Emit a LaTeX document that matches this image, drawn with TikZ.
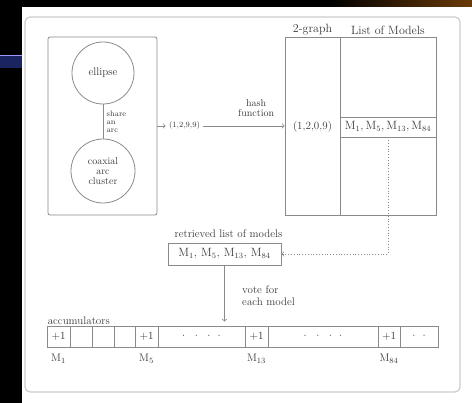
\documentclass[tikz,border=0pt]{standalone}
\usepackage{fontspec}
\usetikzlibrary{calc, positioning}

\begin{document}
\begin{tikzpicture}[x=1pt, y=-1pt,
    every node/.style={text=textColour, font=\fontsize{11}{12}\selectfont},
    box/.style={draw=lineColour, line width=0.8pt, inner sep=0pt},
    accCell/.style={box, minimum height=21pt},
    link/.style={draw=lineColour, line width=0.8pt, ->},
  ]
    % Define colors
    \definecolor{lineColour}{HTML}{8A8A8A}
    \definecolor{textColour}{HTML}{3A3A3A}
    \definecolor{frameColour}{HTML}{CDCDCD}
    \definecolor{barColour}{HTML}{1A2560}
    \definecolor{brownColour}{HTML}{6A3A08}

    % Fix page size
    \useasboundingbox (0,0) rectangle (472,403);

    % Draw slide background
    \fill[black] (0,0) rectangle (472,403);
    \fill[white] (22,7) rectangle (472,403);
    \shade[left color=black, right color=brownColour] (330,0) rectangle (472,7);
    \fill[barColour] (0,55) rectangle (22,68);
    \draw[blue!40!white, line width=0.6pt] (0,55.3) -- (22,55.3);

    % Draw outer frame
    \draw[frameColour, line width=1.2pt, rounded corners=5pt] (25,17) rectangle (460,392);

    % Draw graph box with the two circles
    \node[box, rounded corners=2pt, minimum width=109pt, minimum height=178pt] (graphBox) at (102.5,126) {};
    \node[box, circle, minimum size=62pt, align=center] (ellipseNode) at (103,73) {ellipse};
    \node[box, circle, minimum size=64pt, align=center, font=\fontsize{10}{10}\selectfont] (coaxialNode) at (103,171) {coaxial\\arc\\cluster};
    \draw[lineColour, line width=0.8pt] (ellipseNode) -- (coaxialNode)
        node[midway, right, align=left, font=\fontsize{8}{8}\selectfont] {share\\an\\arc};

    % Draw hashing step
    \node[font=\fontsize{8}{8}\selectfont] (queryKey) at (184.5,126) {(1,2,9,9)};
    \draw[link] (graphBox) -- (queryKey);
    \node[box, minimum width=151pt, minimum height=178pt] (hashTable) at (360.5,126) {};
    \draw[link] (queryKey) -- (hashTable)
        node[pos=0.65, above=6pt, align=center, font=\fontsize{10}{10}\selectfont] {hash\\function};

    % Draw hash table
    \draw[lineColour, line width=0.8pt] (340,37) -- (340,215);
    \node[font=\fontsize{12}{12}\selectfont, anchor=south] (graphHead) at (312.5,38) {2-graph};
    \node[font=\fontsize{12}{12}\selectfont, anchor=south] (modelsHead) at (388,38) {List of Models};
    \node (tableKey) at (312.5,127) {(1,2,0,9)};
    \node[box, minimum width=96pt, minimum height=20pt, font=\fontsize{12}{12}\selectfont] (modelList) at (388,127)
        {$\mathrm{M}_1,\mathrm{M}_5,\mathrm{M}_{13},\mathrm{M}_{84}$};

    % Draw retrieved list
    \node[box, minimum width=113pt, minimum height=22pt, font=\fontsize{12}{12}\selectfont] (retrievedList) at (224.5,254)
        {$\mathrm{M}_1,\,\mathrm{M}_5,\,\mathrm{M}_{13},\,\mathrm{M}_{84}$};
    \node[above=1pt of retrievedList, xshift=4pt] (retrievedLabel) {retrieved list of models};
    \draw[link, dotted] (modelList.south) |- (retrievedList.east);

    % Draw accumulator cells
    \foreach \l/\r/\txt/\nm in {47/70/{$+1$}/cellA, 70/92/{}/cellB, 92/114/{}/cellC, 114/135/{}/cellD,
        135/158/{$+1$}/cellE, 158/245/{$\cdot\ \ \cdot\ \ \cdot\ \ \cdot$}/cellF, 245/268/{$+1$}/cellG,
        268/378/{$\cdot\ \ \cdot\ \ \cdot\ \ \cdot$}/cellH, 378/400/{$+1$}/cellI, 400/438/{$\cdot\ \ \cdot$}/cellJ}
    {
        \pgfmathsetmacro\cellW{\r-\l}
        \pgfmathsetmacro\cellX{(\l+\r)/2}
        \node[accCell, minimum width=\cellW pt] (\nm) at (\cellX,336.5) {\txt};
    }
    \node[anchor=south west, inner sep=1pt] (accLabel) at (cellA.north west) {accumulators};

    % Label the model cells
    \foreach \c/\m in {cellA/1, cellE/5, cellG/13, cellI/84}
        \node[below=3pt of \c] (modelLabel\m) {$\mathrm{M}_{\m}$};

    % Draw voting step
    \draw[link, shorten >=4pt] (retrievedList) -- (retrievedList |- cellF.north)
        node[midway, right=14pt, align=left] {vote for\\each model};

\end{tikzpicture}
\end{document}
